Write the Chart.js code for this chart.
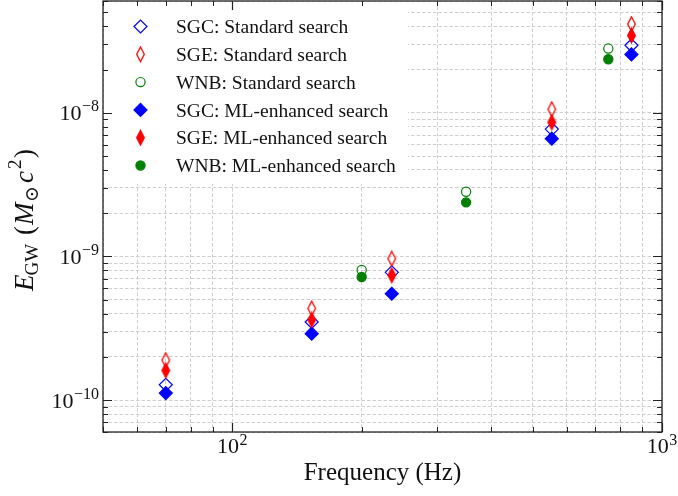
<!DOCTYPE html>
<html>
<head>
<meta charset="utf-8">
<script src="https://cdn.jsdelivr.net/npm/chart.js@4.4.0/dist/chart.umd.min.js"></script>
<style>
  html, body { margin: 0; padding: 0; background: #fff; }
</style>
</head>
<body>
<canvas id="energyChart" width="678" height="496"></canvas>
<script>
// central frequencies (Hz)
const sgFreqs = [70, 153, 235, 554, 849];
const wnbFreqs = [200, 350, 750];

// E_GW in solar masses (M_sun c^2)
const sgcStandard = [1.28e-10, 3.5e-10, 7.75e-10, 7.7e-9, 2.95e-8];
const sgeStandard = [1.9e-10, 4.35e-10, 9.65e-10, 1.06e-8, 4.15e-8];
const wnbStandard = [8.05e-10, 2.82e-9, 2.8e-8];
const sgcEnhanced = [1.12e-10, 2.9e-10, 5.5e-10, 6.6e-9, 2.55e-8];
const sgeEnhanced = [1.61e-10, 3.62e-10, 7.4e-10, 8.6e-9, 3.45e-8];
const wnbEnhanced = [7.2e-10, 2.38e-9, 2.36e-8];

const seriesLabels = [
  'SGC: Standard search',
  'SGE: Standard search',
  'WNB: Standard search',
  'SGC: ML-enhanced search',
  'SGE: ML-enhanced search',
  'WNB: ML-enhanced search'
];

const xRange = [50, 1000];
const yRange = [6e-11, 6e-8];
const xMajorTicks = [100, 1000];
const yMajorTicks = [1e-10, 1e-9, 1e-8];

const blue = '#0000ff', red = '#ff0000', green = '#008000';
const serif = '"Liberation Serif", "Times New Roman", "DejaVu Serif", serif';

// narrow diamond marker (matplotlib 'd')
function thinDiamond(color, filled) {
  const c = document.createElement('canvas');
  c.width = 11; c.height = 17;
  const g = c.getContext('2d');
  g.beginPath();
  g.moveTo(5.5, 1.2); g.lineTo(9.3, 8.5); g.lineTo(5.5, 15.8); g.lineTo(1.7, 8.5);
  g.closePath();
  if (filled) { g.fillStyle = color; g.fill(); }
  g.strokeStyle = color; g.lineWidth = 1.3; g.stroke();
  return c;
}

const markers = [
  { color: blue, style: 'rectRot', radius: 6.5, filled: false },
  { color: red, style: thinDiamond(red, false), radius: 6, filled: false },
  { color: green, style: 'circle', radius: 4.6, filled: false },
  { color: blue, style: 'rectRot', radius: 6.5, filled: true },
  { color: red, style: thinDiamond(red, true), radius: 6, filled: true },
  { color: green, style: 'circle', radius: 4.6, filled: true }
];

const seriesX = [sgFreqs, sgFreqs, wnbFreqs, sgFreqs, sgFreqs, wnbFreqs];
const seriesY = [sgcStandard, sgeStandard, wnbStandard, sgcEnhanced, sgeEnhanced, wnbEnhanced];

const datasets = seriesLabels.map((label, i) => ({
  label,
  data: seriesX[i].map((x, j) => ({ x, y: seriesY[i][j] })),
  pointStyle: markers[i].style,
  pointRadius: markers[i].radius,
  pointBorderWidth: 1.2,
  pointBorderColor: markers[i].color,
  pointBackgroundColor: markers[i].filled ? markers[i].color : 'rgba(0,0,0,0)',
  order: seriesLabels.length - i  // later series drawn on top
}));

// 1..9 x 10^n positions inside [min, max]
function decadeTicks(min, max) {
  const out = [];
  for (let e = Math.floor(Math.log10(min)); e <= Math.ceil(Math.log10(max)); e++) {
    for (let m = 1; m <= 9; m++) {
      const v = Number((m * Math.pow(10, e)).toPrecision(10));
      if (v >= min * (1 - 1e-9) && v <= max * (1 + 1e-9)) out.push({ value: v, major: m === 1 });
    }
  }
  return out;
}

const gridColor = '#cfcfcf';

function drawRich(ctx, parts, x, y, align) {
  let total = 0;
  parts.forEach(p => { ctx.font = p.font; p.w = ctx.measureText(p.text).width; total += p.w + (p.gap || 0); });
  let cx = align === 'center' ? x - total / 2 : align === 'right' ? x - total : x;
  parts.forEach(p => {
    cx += p.gap || 0;
    ctx.font = p.font;
    ctx.fillText(p.text, cx, y + (p.dy || 0));
    cx += p.w;
  });
}

function drawMarker(ctx, m, x, y) {
  ctx.save();
  ctx.strokeStyle = m.color;
  ctx.fillStyle = m.color;
  ctx.lineWidth = 1.2;
  if (typeof m.style === 'object') {
    ctx.drawImage(m.style, x - m.style.width / 2, y - m.style.height / 2);
  } else {
    ctx.beginPath();
    if (m.style === 'circle') {
      ctx.arc(x, y, m.radius, 0, Math.PI * 2);
    } else {
      ctx.moveTo(x - m.radius, y); ctx.lineTo(x, y - m.radius);
      ctx.lineTo(x + m.radius, y); ctx.lineTo(x, y + m.radius);
      ctx.closePath();
    }
    if (m.filled) ctx.fill();
    ctx.stroke();
  }
  ctx.restore();
}

const axesDecor = {
  id: 'axesDecor',
  afterDraw(chart) {
    const { ctx, chartArea: a, scales: { x, y } } = chart;
    ctx.save();

    // legend
    ctx.fillStyle = '#ffffff';
    ctx.fillRect(a.left + 1, a.top + 1, 304, 182);
    seriesLabels.forEach((label, i) => {
      const ry = 26.5 + i * 27.8;
      drawMarker(ctx, markers[i], 140.5, ry);
      ctx.fillStyle = '#111';
      ctx.font = '19.5px ' + serif;
      ctx.textAlign = 'left';
      ctx.textBaseline = 'alphabetic';
      ctx.fillText(label, 176, ry + 6.6);
    });

    // ticks, pointing inwards on all four sides
    ctx.strokeStyle = '#222';
    x.ticks.forEach(t => {
      const px = Math.round(x.getPixelForValue(t.value)) + 0.5;
      const len = t.major ? 9 : 5;
      ctx.lineWidth = t.major ? 1.2 : 1;
      ctx.beginPath();
      ctx.moveTo(px, a.bottom); ctx.lineTo(px, a.bottom - len);
      ctx.moveTo(px, a.top); ctx.lineTo(px, a.top + len);
      ctx.stroke();
    });
    y.ticks.forEach(t => {
      const py = Math.round(y.getPixelForValue(t.value)) + 0.5;
      const len = t.major ? 9 : 5;
      ctx.lineWidth = t.major ? 1.2 : 1;
      ctx.beginPath();
      ctx.moveTo(a.left, py); ctx.lineTo(a.left + len, py);
      ctx.moveTo(a.right, py); ctx.lineTo(a.right - len, py);
      ctx.stroke();
    });

    // frame
    ctx.lineWidth = 1.3;
    ctx.strokeStyle = '#222';
    ctx.strokeRect(a.left, a.top, a.right - a.left, a.bottom - a.top);

    // tick labels
    ctx.fillStyle = '#111';
    ctx.textBaseline = 'alphabetic';
    ctx.textAlign = 'left';
    const base = '22px ' + serif, sup = '16px ' + serif;
    xMajorTicks.forEach(v => {
      const e = Math.round(Math.log10(v));
      drawRich(ctx, [
        { text: '10', font: base },
        { text: String(e).replace('-', '\u2212'), font: sup, dy: -8, gap: 0.5 }
      ], x.getPixelForValue(v), 453, 'center');
    });
    yMajorTicks.forEach(v => {
      const e = Math.round(Math.log10(v));
      drawRich(ctx, [
        { text: '10', font: base },
        { text: String(e).replace('-', '\u2212'), font: sup, dy: -9, gap: 0.5 }
      ], 99, y.getPixelForValue(v) + 7.5, 'right');
    });

    // axis titles
    ctx.font = '25px ' + serif;
    ctx.textAlign = 'center';
    ctx.fillText('Frequency (Hz)', (a.left + a.right) / 2, 480);

    ctx.save();
    ctx.translate(33, 220);
    ctx.rotate(-Math.PI / 2);
    ctx.textAlign = 'left';
    const it = 'italic 27px ' + serif, rm = '27px ' + serif, sm = '19px ' + serif;
    drawRich(ctx, [
      { text: 'E', font: it },
      { text: 'GW', font: sm, dy: 5, gap: -1 },
      { text: ' (', font: rm, gap: 2 },
      { text: 'M', font: it, gap: 1 },
      { text: '\u2299', font: sm, dy: 5, gap: 0.5 },
      { text: 'c', font: it, gap: 3 },
      { text: '2', font: sm, dy: -12, gap: 2 },
      { text: ')', font: rm, gap: 1.5 }
    ], 0, 0, 'center');
    ctx.restore();

    ctx.restore();
  }
};

function logAxis(range) {
  return {
    type: 'logarithmic',
    min: range[0],
    max: range[1],
    afterBuildTicks: scale => { scale.ticks = decadeTicks(range[0], range[1]); },
    ticks: { display: false, autoSkip: false },
    grid: { color: gridColor, lineWidth: 1, drawTicks: false },
    border: { display: false, dash: [3.5, 2] }
  };
}

new Chart(document.getElementById('energyChart'), {
  type: 'scatter',
  data: { datasets },
  options: {
    responsive: false,
    animation: false,
    layout: { autoPadding: false, padding: { left: 103, right: 16, top: 1, bottom: 64 } },
    plugins: { legend: { display: false }, tooltip: { enabled: false } },
    scales: { x: logAxis(xRange), y: logAxis(yRange) }
  },
  plugins: [axesDecor]
});
</script>
</body>
</html>
